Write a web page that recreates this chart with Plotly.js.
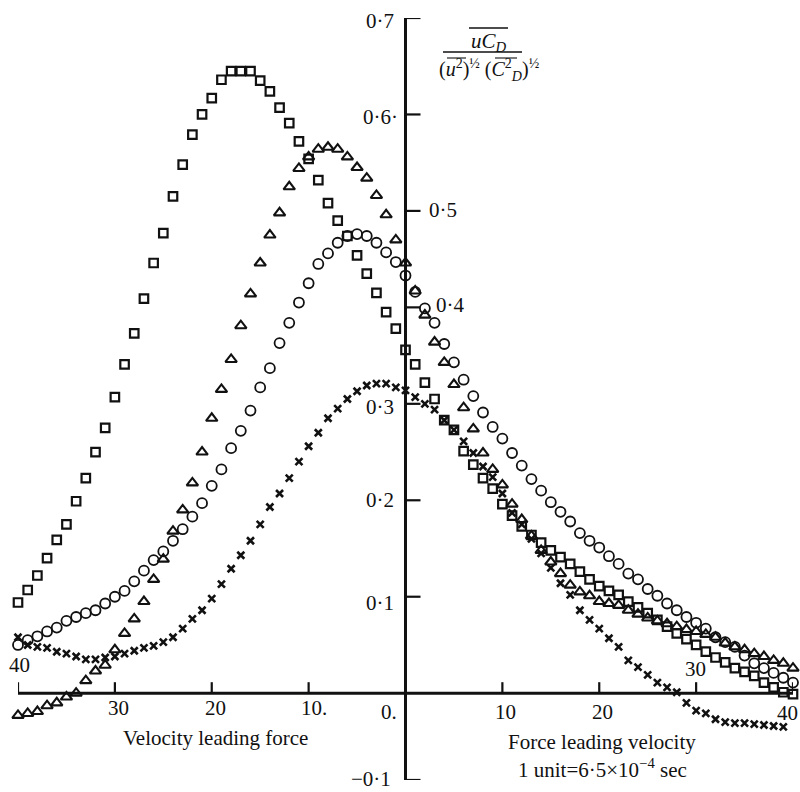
<!DOCTYPE html>
<html>
<head>
<meta charset="utf-8">
<script src="https://cdn.plot.ly/plotly-3.0.1.min.js"></script>
<style>html,body{margin:0;padding:0;background:#fff;}#chart{width:800px;height:792px;}</style>
</head>
<body>
<div id="chart"></div>
<script>
// lag (units), negative = velocity leading force
const lags = [-40,-39,-38,-37,-36,-35,-34,-33,-32,-31,-30,-29,-28,-27,-26,-25,-24,-23,-22,-21,
  -20,-19,-18,-17,-16,-15,-14,-13,-12,-11,-10,-9,-8,-7,-6,-5,-4,-3,-2,-1,
  0,1,2,3,4,5,6,7,8,9,10,11,12,13,14,15,16,17,18,19,
  20,21,22,23,24,25,26,27,28,29,30,31,32,33,34,35,36,37,38,39,40];

const squares = [0.094,0.107,0.122,0.140,0.159,0.175,0.199,0.223,0.250,0.275,0.307,0.341,0.373,0.409,0.446,0.477,0.515,0.548,0.579,0.600,
  0.617,0.636,0.645,0.645,0.645,0.635,0.624,0.607,0.591,0.572,0.554,0.532,0.508,0.490,0.474,0.454,0.435,0.415,0.395,0.378,
  0.356,0.341,0.322,0.305,0.283,0.273,0.251,0.237,0.223,0.212,0.196,0.184,0.173,0.164,0.156,0.148,0.141,0.134,0.126,0.118,
  0.111,0.106,0.102,0.095,0.089,0.083,0.076,0.069,0.062,0.056,0.050,0.043,0.037,0.032,0.026,0.022,0.018,0.011,0.006,0.001,-0.001];

const triangles = [-0.023,-0.021,-0.019,-0.013,-0.010,-0.004,0.000,0.013,0.023,0.029,0.045,0.062,0.077,0.095,0.118,0.139,0.168,0.190,0.218,0.250,
  0.285,0.315,0.346,0.381,0.414,0.446,0.475,0.498,0.525,0.544,0.556,0.564,0.566,0.564,0.556,0.545,0.534,0.516,0.496,0.470,
  0.446,0.417,0.392,0.364,0.343,0.320,0.296,0.274,0.249,0.232,0.216,0.196,0.180,0.163,0.148,0.136,0.124,0.112,0.105,0.101,
  0.095,0.093,0.091,0.086,0.082,0.078,0.075,0.072,0.069,0.066,0.064,0.061,0.058,0.052,0.048,0.045,0.041,0.038,0.034,0.031,0.026];

const circles = [0.050,0.055,0.059,0.064,0.068,0.075,0.079,0.083,0.086,0.093,0.100,0.106,0.116,0.127,0.138,0.147,0.158,0.170,0.183,0.197,
  0.215,0.232,0.254,0.272,0.293,0.317,0.337,0.363,0.384,0.405,0.425,0.445,0.456,0.467,0.474,0.476,0.474,0.467,0.457,0.447,
  0.433,0.416,0.399,0.384,0.362,0.343,0.325,0.308,0.291,0.276,0.264,0.249,0.236,0.222,0.210,0.198,0.188,0.178,0.166,0.158,
  0.151,0.142,0.134,0.124,0.118,0.108,0.101,0.093,0.086,0.079,0.073,0.067,0.058,0.053,0.048,0.039,0.031,0.026,0.021,0.016,0.011];

const crosses = [0.058,0.050,0.048,0.047,0.043,0.041,0.038,0.035,0.035,0.037,0.038,0.041,0.044,0.047,0.049,0.053,0.058,0.067,0.077,0.086,
  0.098,0.113,0.129,0.143,0.158,0.175,0.193,0.207,0.223,0.240,0.256,0.270,0.285,0.295,0.305,0.313,0.319,0.321,0.321,0.317,
  0.314,0.307,0.300,0.294,0.283,0.273,0.261,0.249,0.235,0.224,0.207,0.187,0.175,0.160,0.145,0.130,0.114,0.102,0.086,0.076,
  0.067,0.057,0.048,0.034,0.027,0.019,0.011,0.006,0.001,-0.010,-0.018,-0.021,-0.027,-0.030,-0.031,-0.031,-0.032,-0.033,-0.034,-0.035,null];

const xTickVals = [-40,-30,-20,-10,10,20,30,40];
const yTickVals = [-0.09,0.1,0.2,0.3,0.4,0.5,0.6,0.7];

// pixel helpers for decorative placement (paper coordinates)
const W = 800, H = 792, ML = 18, MR = 7, MT = 18, MB = 12;
const XR = [-40, 40], YR = [-0.09, 0.7];
const pw = W - ML - MR, ph = H - MT - MB;
function px2p(px){ return (px - ML) / pw; }
function py2p(py){ return 1 - (py - MT) / ph; }
const unitPerPxX = (XR[1] - XR[0]) / pw, unitPerPxY = (YR[1] - YR[0]) / ph;

const FONT = 'Liberation Serif, Times New Roman, serif';
const tf = {family: FONT, size: 21, color: '#111'};

function mk(y, symbol, size, lw){
  return {x: lags, y: y, type: 'scatter', mode: 'markers', cliponaxis: false, hoverinfo: 'skip',
    marker: {symbol: symbol, size: size, color: '#111', line: {color: '#111', width: lw}}};
}

// crossing axes and their tick marks, drawn as line segments through the axes' scales
const axX = [], axY = [];
axX.push(0, 0, null); axY.push(YR[0], YR[1], null);
axX.push(XR[0], XR[1], null); axY.push(0, 0, null);
const tkX = [], tkY = [];
yTickVals.forEach(function(v){ tkX.push(0, 15 * unitPerPxX, null); tkY.push(v, v, null); });
xTickVals.forEach(function(v){ tkX.push(v, v, null); tkY.push(0, 11 * unitPerPxY, null); });

const data = [
  {x: axX, y: axY, type: 'scatter', mode: 'lines', line: {color: '#111', width: 3}, hoverinfo: 'skip'},
  {x: tkX, y: tkY, type: 'scatter', mode: 'lines', line: {color: '#111', width: 2.2}, hoverinfo: 'skip'},
  mk(squares, 'square-open', 8.5, 2.2),
  mk(triangles, 'triangle-up-open', 10, 2.1),
  mk(circles, 'circle-open', 10, 1.8),
  mk(crosses, 'x-thin-open', 7, 2.6)
];

function lab(text, px, py, anchor, size){
  return {x: px2p(px), y: py2p(py), xref: 'paper', yref: 'paper', text: text, showarrow: false,
    xanchor: anchor || 'center', yanchor: 'middle', font: Object.assign({}, tf, size ? {size: size} : {})};
}
const annotations = [
  lab('0·7', 396, 21, 'right'),
  lab('0·6·', 400, 117, 'right'),
  lab('0·5', 427, 210, 'left'),
  lab('0·4', 434, 305, 'left'),
  lab('0·3', 396, 407, 'right'),
  lab('0·2', 396, 500, 'right'),
  lab('0·1', 396, 603, 'right'),
  lab('0.', 399, 712, 'right'),
  lab('−0·1', 393, 779, 'right'),
  lab('40', 19, 665),
  lab('30', 118, 708),
  lab('20', 215, 708),
  lab('10.', 314, 708),
  lab('10', 505, 712),
  lab('20', 602, 712),
  lab('30', 695, 669),
  lab('40', 787, 713),
  lab('Velocity leading force', 215, 738),
  lab('Force leading velocity', 602, 742),
  lab('1 unit=6·5×10<sup>−4</sup> sec', 602, 768),
  lab('<i>uC</i><sub><i>D</i></sub>', 489, 42, 'center', 21),
  lab('(<i>u</i><sup>2</sup>)<sup>½</sup> (<i>C</i><sup>2</sup><sub><i>D</i></sub>)<sup>½</sup>', 489, 70, 'center', 20)
];

function hline(px0, px1, py, w){
  return {type: 'line', xref: 'paper', yref: 'paper', x0: px2p(px0), x1: px2p(px1), y0: py2p(py), y1: py2p(py),
    line: {color: '#111', width: w}};
}
const shapes = [
  hline(469, 508, 28, 1.3),
  hline(443, 522, 52, 1.3),
  hline(447, 466, 58, 1.1),
  hline(495, 517, 58, 1.1)
];

const layout = {
  width: W, height: H,
  margin: {l: ML, r: MR, t: MT, b: MB, pad: 0},
  paper_bgcolor: '#fff', plot_bgcolor: '#fff',
  showlegend: false,
  font: tf,
  xaxis: {range: XR, showline: false, ticks: '', showticklabels: false, showgrid: false,
    zeroline: false, fixedrange: true},
  yaxis: {range: YR, showline: false, ticks: '', showticklabels: false, showgrid: false,
    zeroline: false, fixedrange: true},
  annotations: annotations,
  shapes: shapes
};

Plotly.newPlot('chart', data, layout, {displayModeBar: false, staticPlot: true});
</script>
</body>
</html>
